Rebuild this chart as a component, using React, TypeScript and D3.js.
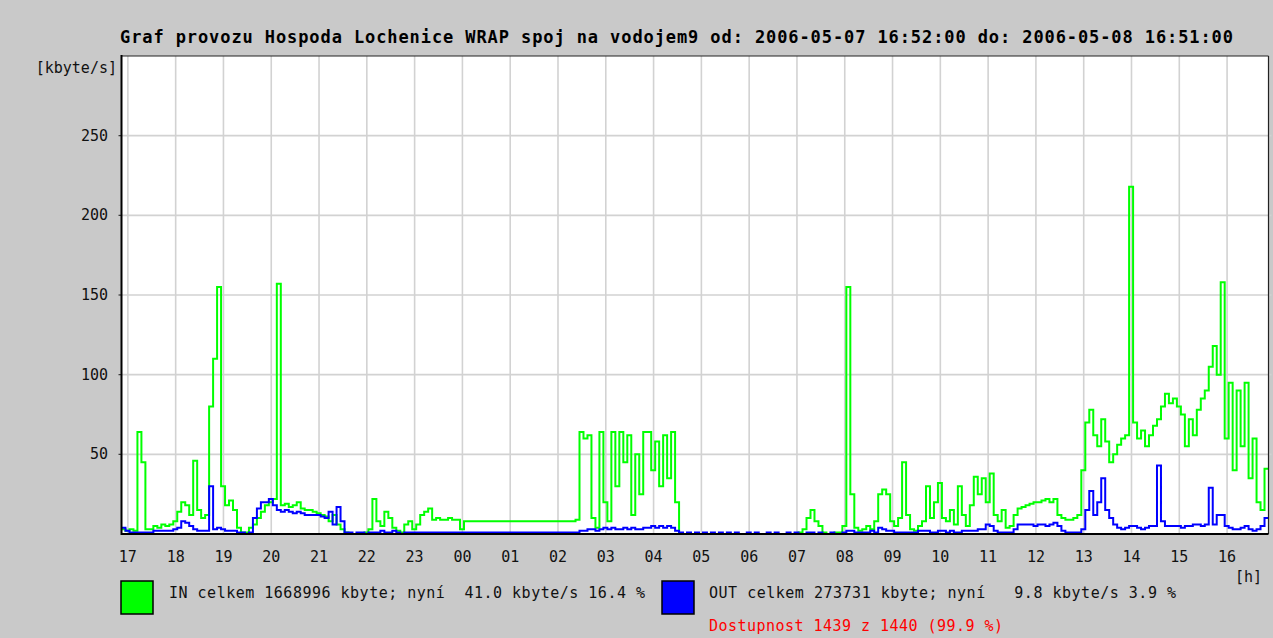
import React from 'react';
import * as d3 from 'd3';

// hour labels along the bottom, first one is 17:00 (graph starts 16:52)
const hourLabels = ['17', '18', '19', '20', '21', '22', '23', '00', '01', '02', '03', '04',
  '05', '06', '07', '08', '09', '10', '11', '12', '13', '14', '15', '16'];
const yTicks = [50, 100, 150, 200, 250];

// 5 minute samples from 16:52, one row per hour (kbyte/s)
const inValues = [
  3, 2, 3, 2, 64, 45, 3, 3, 5, 4, 6, 5,
  6, 8, 14, 20, 18, 12, 46, 15, 10, 12, 80, 110,
  155, 30, 18, 21, 15, 4, 1, 1, 4, 6, 10, 14,
  18, 20, 22, 157, 18, 19, 17, 18, 20, 16, 15, 15,
  14, 13, 12, 11, 8, 12, 6, 3, 1, 0, 0, 0,
  0, 1, 3, 22, 8, 5, 14, 10, 4, 2, 1, 6,
  8, 3, 6, 12, 14, 16, 9, 10, 9, 9, 10, 9,
  9, 3, 8, 8, 8, 8, 8, 8, 8, 8, 8, 8,
  8, 8, 8, 8, 8, 8, 8, 8, 8, 8, 8, 8,
  8, 8, 8, 8, 8, 8, 9, 64, 60, 62, 10, 4,
  64, 20, 8, 64, 30, 64, 45, 62, 12, 50, 25, 64,
  64, 40, 58, 30, 62, 35, 64, 20, 0, 0, 0, 0,
  0, 0, 0, 0, 0, 0, 0, 0, 0, 0, 0, 0,
  0, 0, 0, 0, 0, 0, 0, 0, 0, 0, 0, 0,
  0, 0, 1, 3, 10, 15, 8, 5, 1, 0, 0, 1,
  1, 5, 155, 25, 4, 2, 3, 5, 3, 8, 25, 28,
  25, 8, 5, 10, 45, 12, 3, 2, 5, 8, 30, 10,
  20, 32, 10, 8, 15, 6, 30, 12, 5, 18, 36, 25,
  35, 20, 38, 12, 8, 15, 4, 5, 12, 16, 17, 18,
  19, 20, 20, 21, 22, 20, 22, 12, 10, 9, 9, 10,
  12, 40, 70, 78, 62, 55, 72, 58, 45, 50, 56, 60,
  62, 218, 70, 60, 65, 55, 62, 68, 72, 80, 88, 82,
  85, 80, 75, 55, 72, 62, 78, 85, 90, 105, 118, 100,
  158, 60, 95, 40, 90, 55, 95, 35, 60, 20, 15, 41,
];

const outValues = [
  4, 2, 1, 1, 1, 1, 1, 1, 2, 2, 2, 2,
  2, 3, 4, 8, 7, 5, 3, 2, 2, 2, 30, 3,
  4, 3, 2, 2, 2, 1, 1, 0, 1, 10, 16, 20,
  20, 22, 18, 15, 14, 15, 14, 13, 14, 13, 12, 12,
  12, 12, 11, 10, 14, 6, 17, 8, 1, 1, 0, 1,
  1, 0, 1, 1, 1, 2, 1, 1, 2, 1, 0, 1,
  1, 1, 1, 1, 1, 1, 1, 1, 1, 1, 1, 1,
  1, 1, 1, 1, 1, 1, 1, 1, 1, 1, 1, 1,
  1, 1, 1, 1, 1, 1, 1, 1, 1, 1, 1, 1,
  1, 1, 1, 1, 1, 1, 1, 2, 2, 3, 3, 2,
  3, 4, 3, 4, 3, 3, 4, 3, 4, 3, 3, 4,
  4, 5, 4, 5, 4, 5, 4, 2, 1, 0, 1, 0,
  1, 0, 1, 0, 1, 0, 1, 0, 1, 0, 1, 0,
  0, 1, 0, 1, 0, 0, 1, 0, 1, 0, 0, 1,
  0, 1, 0, 0, 1, 1, 0, 1, 0, 0, 1, 0,
  0, 1, 2, 2, 1, 1, 1, 1, 2, 1, 4, 3,
  2, 2, 1, 1, 1, 1, 1, 1, 2, 2, 2, 1,
  1, 2, 2, 1, 2, 1, 1, 2, 2, 2, 2, 3,
  3, 6, 5, 2, 1, 1, 1, 1, 3, 6, 6, 6,
  6, 5, 6, 6, 5, 6, 7, 5, 2, 1, 1, 1,
  1, 3, 15, 27, 12, 20, 35, 15, 10, 6, 4, 3,
  4, 5, 5, 4, 3, 4, 5, 5, 43, 8, 5, 5,
  5, 5, 4, 5, 5, 6, 6, 5, 6, 29, 6, 12,
  12, 5, 4, 3, 3, 4, 5, 3, 2, 3, 5, 10,
];

const titleText = 'Graf provozu Hospoda Lochenice WRAP spoj na vodojem9 od: 2006-05-07 16:52:00 do: 2006-05-08 16:51:00';
const inLegend = 'IN celkem 1668996 kbyte; nyní  41.0 kbyte/s 16.4 %';
const outLegend = 'OUT celkem 273731 kbyte; nyní   9.8 kbyte/s 3.9 %';
const availText = 'Dostupnost 1439 z 1440 (99.9 %)';

const STEP = 5;
const FONT = '"DejaVu Sans Mono", "Liberation Mono", monospace';

const App = () => {
  const width = 1273;
  const height = 638;
  const left = 121.5, right = 1268.5, top = 56, bottom = 534;

  const x = d3.scaleLinear().domain([0, 1440]).range([left, right]);
  const y = d3.scaleLinear().domain([0, 300]).range([bottom, top]);

  const toPoints = (vals: number[]) => {
    const pts = vals.map((v, i) => [i * STEP, v] as [number, number]);
    pts.push([vals.length * STEP, vals[vals.length - 1]]);
    return pts;
  };

  const line = d3.line<[number, number]>()
    .x(d => x(d[0]))
    .y(d => y(d[1]))
    .curve(d3.curveStepAfter);

  const hourMin = (k: number) => 8 + 60 * k;

  return (
    <svg width={width} height={height} style={{ position: 'absolute', left: 0, top: 0, display: 'block' }}
      fontFamily={FONT}>
      <rect x={0} y={0} width={width} height={height} fill="#c9c9c9" />
      <text x={120} y={43} fontSize={17} fontWeight="bold" fill="#000" textLength={1113}
        lengthAdjust="spacing">{titleText}</text>

      <rect x={left} y={top} width={right - left} height={bottom - top} fill="#fff" />

      {/* grid */}
      {hourLabels.map((h, k) => (
        <line key={'vg' + h} x1={x(hourMin(k))} x2={x(hourMin(k))} y1={top} y2={bottom}
          stroke="#d2d2d2" strokeWidth={1.6} />
      ))}
      {yTicks.map(t => (
        <line key={'hg' + t} x1={left - 3} x2={right + 3} y1={y(t)} y2={y(t)}
          stroke="#d2d2d2" strokeWidth={1.6} />
      ))}
      {yTicks.map(t => (
        <line key={'tk' + t} x1={left - 3} x2={left} y1={y(t)} y2={y(t)} stroke="#333" strokeWidth={1.2} />
      ))}

      {/* data */}
      <path d={line(toPoints(inValues)) || ''} fill="none" stroke="#00ff00" strokeWidth={2} />
      <path d={line(toPoints(outValues)) || ''} fill="none" stroke="#0000ff" strokeWidth={2} />

      {/* frame */}
      <line x1={left} x2={right} y1={top} y2={top} stroke="#222" strokeWidth={1.2} />
      <line x1={right} x2={right} y1={top} y2={bottom} stroke="#222" strokeWidth={1.2} />
      <line x1={left} x2={left} y1={top - 1} y2={bottom + 1} stroke="#000" strokeWidth={2} />
      <line x1={left} x2={right} y1={bottom} y2={bottom} stroke="#000" strokeWidth={2} />

      {/* axis labels */}
      {hourLabels.map((h, k) => (
        <text key={'hl' + k} x={x(hourMin(k))} y={562} fontSize={15} textAnchor="middle" fill="#111">{h}</text>
      ))}
      {yTicks.map(t => (
        <text key={'yl' + t} x={108} y={y(t) + 5} fontSize={15} textAnchor="end" fill="#111">{t}</text>
      ))}
      <text x={117} y={73} fontSize={15} textAnchor="end" fill="#111">[kbyte/s]</text>
      <text x={1262} y={582} fontSize={15} textAnchor="end" fill="#111">[h]</text>

      {/* legend */}
      <rect x={121} y={581} width={32} height={33} fill="#00ff00" stroke="#000" strokeWidth={1.5} />
      <text x={169} y={598} fontSize={15} fill="#111" textLength={476} lengthAdjust="spacing"
        style={{ whiteSpace: 'pre' }}>{inLegend}</text>
      <rect x={662} y={581} width={32} height={33} fill="#0000ff" stroke="#000" strokeWidth={1.5} />
      <text x={709} y={598} fontSize={15} fill="#111" textLength={467} lengthAdjust="spacing"
        style={{ whiteSpace: 'pre' }}>{outLegend}</text>
      <text x={709} y={631} fontSize={15} fill="#ff0000" textLength={294} lengthAdjust="spacing">{availText}</text>
    </svg>
  );
};

export default App;
